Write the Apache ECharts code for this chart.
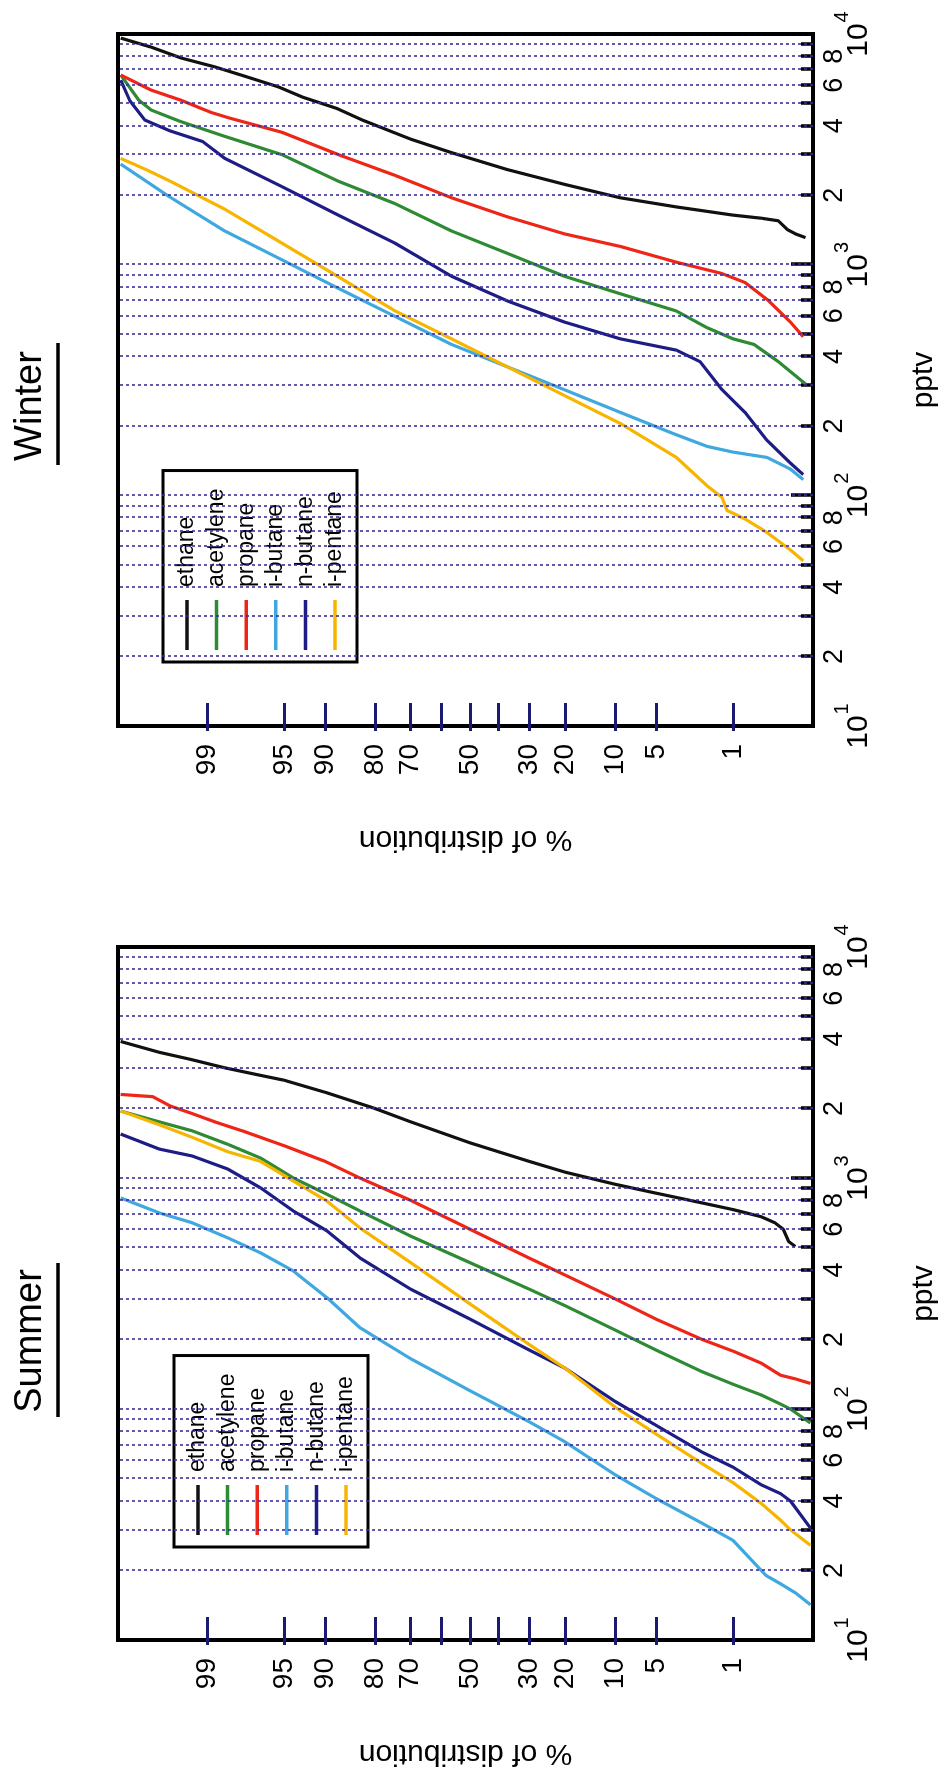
<!DOCTYPE html>
<html>
<head>
<meta charset="utf-8">
<script src="https://cdn.jsdelivr.net/npm/echarts@6/dist/echarts.min.js"></script>
<style>
  html, body { margin: 0; padding: 0; background: #ffffff; overflow: hidden; }
  #page { position: relative; width: 946px; height: 1771px; overflow: hidden; background: #ffffff; }
  /* the figure is laid out landscape and turned a quarter turn counter-clockwise */
  #chart { position: absolute; left: 0; top: 0; width: 1771px; height: 946px;
           transform-origin: 0 0; transform: translate(0, 1771px) rotate(-90deg); }
</style>
</head>
<body>
<div id="page"><div id="chart"></div></div>
<script>
// ---- species ----
const speciesNames  = ['ethane', 'acetylene', 'propane', 'i-butane', 'n-butane', 'i-pentane'];
const speciesColors = ['#111111', '#2f8a34', '#ee2617', '#3fa9df', '#1d1d85', '#f7b500'];

// ---- probability axis ticks (% of distribution) ----
const probTicks  = [99, 95, 90, 80, 70, 60, 50, 40, 30, 20, 10, 5, 1];
const probLabels = [99, 95, 90, 80, 70, 50, 30, 20, 10, 5, 1];

// ---- concentration axis ticks (pptv) ----
const decadeExponents = [1, 2, 3, 4];
const minorMantissas  = [2, 3, 4, 5, 6, 7, 8, 9];
const labelMantissas  = [2, 4, 6, 8];
const gridMantissas   = [1, 2, 3, 4, 5, 6, 7, 8, 9];

// ---- Summer: [cumulative %, pptv] ----
const summerEthane    = [[99.9,3900],[99.7,3500],[99.3,3250],[98.5,3000],[97,2800],[95,2650],[90,2350],[80,2000],[70,1750],[50,1420],[30,1180],[20,1060],[10,940],[5,860],[2,780],[1,730],[0.5,680],[0.35,640],[0.28,600],[0.24,530],[0.2,505]];
const summerAcetylene = [[99.9,1950],[99.7,1750],[99.3,1600],[98.4,1400],[96.8,1220],[94.1,1000],[89.7,850],[83.5,720],[70,560],[50,430],[30,330],[20,280],[10,220],[5,180],[2,145],[1,128],[0.5,115],[0.3,105],[0.23,100],[0.13,87]];
const summerPropane   = [[99.9,2300],[99.75,2250],[99.6,2050],[99.3,1900],[98.8,1750],[97.8,1600],[95,1380],[90,1180],[83.5,1000],[70,800],[50,600],[30,450],[20,380],[10,300],[5,245],[2,200],[1,178],[0.5,158],[0.3,140],[0.2,135],[0.13,129]];
const summerIButane   = [[99.9,820],[99.7,706],[99.3,640],[98.4,551],[96.8,474],[94.1,396],[89.7,303],[83.5,225],[70,165],[50,120],[30,88],[20,72],[10,52],[5,41],[2,32],[1,27],[0.44,19],[0.3,17.5],[0.2,16],[0.13,14.2]];
const summerNButane   = [[99.9,1550],[99.7,1334],[99.3,1245],[98.4,1094],[96.8,906],[94.1,720],[89.7,590],[83.5,451],[70,330],[50,245],[30,180],[20,150],[10,108],[5,85],[2,65],[1,56],[0.5,47],[0.3,43],[0.23,40],[0.13,30.5]];
const summerIPentane  = [[99.9,1950],[99.7,1700],[99.3,1500],[98.4,1300],[96.8,1180],[94.1,970],[89.7,794],[83.5,608],[70,430],[50,285],[30,190],[20,150],[10,102],[5,78],[2,58],[1,48],[0.5,39],[0.3,33],[0.23,30],[0.13,25.7]];

// ---- Winter: [cumulative %, pptv] ----
const winterEthane    = [[99.9,9600],[99.76,8770],[99.47,7870],[98.8,7200],[97.86,6640],[95.5,5900],[93.1,5330],[88,4750],[83,4240],[70,3500],[56.5,3060],[36.9,2580],[20.2,2230],[9.2,1950],[3.4,1780],[1,1640],[0.5,1590],[0.32,1550],[0.25,1420],[0.2,1360],[0.15,1310]];
const winterAcetylene = [[99.9,6640],[99.83,5160],[99.76,4680],[99.5,4200],[98.5,3600],[95.2,3000],[87.8,2300],[74.7,1840],[56.5,1400],[36.9,1117],[20.2,891],[9.2,748],[3.4,630],[1.8,533],[1,477],[0.6,451],[0.32,380],[0.15,304]];
const winterPropane   = [[99.9,6640],[99.76,5710],[99.47,5160],[98.9,4570],[98.3,4310],[95.2,3750],[87.8,3000],[74.7,2440],[56.5,1950],[36.9,1610],[20.2,1360],[9.2,1200],[3.4,1025],[1.29,915],[0.75,837],[0.43,707],[0.23,564],[0.16,487]];
const winterIButane   = [[99.9,2730],[99.6,1960],[98.5,1400],[95.2,1050],[87.8,790],[74.7,597],[56.5,451],[36.9,360],[20.2,287],[9.2,229],[3.4,183],[1.8,163],[1,154],[0.43,146],[0.23,130],[0.16,117]];
const winterNButane   = [[99.9,6310],[99.87,5160],[99.8,4240],[99.6,3800],[99.1,3420],[98.5,2890],[95.2,2180],[87.8,1640],[74.7,1240],[56.5,891],[36.9,695],[20.2,564],[9.2,477],[3.4,426],[2.1,380],[1.29,287],[0.75,229],[0.43,173],[0.23,138],[0.16,123]];
const winterIPentane  = [[99.9,2890],[99.79,2580],[99.6,2300],[98.5,1740],[95.2,1240],[87.8,886],[74.7,631],[56.5,477],[36.9,360],[20.2,271],[9.2,205],[3.4,146],[1.8,110],[1.29,98],[1.15,86],[0.75,79],[0.43,69],[0.23,58],[0.16,52]];

const summerSeries = [summerEthane, summerAcetylene, summerPropane, summerIButane, summerNButane, summerIPentane];
const winterSeries = [winterEthane, winterAcetylene, winterPropane, winterIButane, winterNButane, winterIPentane];

// inverse of the standard normal CDF (Acklam), used for the probability-paper axis
function probit(p) {
  const a = [-3.969683028665376e+01, 2.209460984245205e+02, -2.759285104469687e+02, 1.383577518672690e+02, -3.066479806614716e+01, 2.506628277459239e+00];
  const b = [-5.447609879822406e+01, 1.615858368580409e+02, -1.556989798598866e+02, 6.680131188771972e+01, -1.328068155288572e+01];
  const c = [-7.784894002430293e-03, -3.223964580411365e-01, -2.400758277161838e+00, -2.549732539343734e+00, 4.374664141464968e+00, 2.938163982698783e+00];
  const d = [7.784695709041462e-03, 3.224671290700398e-01, 2.445134137142996e+00, 3.754408661907416e+00];
  const pl = 0.02425;
  let q, r;
  if (p < pl) {
    q = Math.sqrt(-2 * Math.log(p));
    return (((((c[0]*q+c[1])*q+c[2])*q+c[3])*q+c[4])*q+c[5]) / ((((d[0]*q+d[1])*q+d[2])*q+d[3])*q+1);
  }
  if (p > 1 - pl) {
    q = Math.sqrt(-2 * Math.log(1 - p));
    return -(((((c[0]*q+c[1])*q+c[2])*q+c[3])*q+c[4])*q+c[5]) / ((((d[0]*q+d[1])*q+d[2])*q+d[3])*q+1);
  }
  q = p - 0.5; r = q * q;
  return (((((a[0]*r+a[1])*r+a[2])*r+a[3])*r+a[4])*r+a[5])*q / (((((b[0]*r+b[1])*r+b[2])*r+b[3])*r+b[4])*r+1);
}

const FONT = '"Liberation Sans", Arial, Helvetica, sans-serif';
const Z_MAX = 3.114, Z_MIN = -3.034;

const probTickZ  = probTicks.map(p => probit(p / 100));
const probLabelZ = probLabels.map(p => probit(p / 100));
const minorTickLog = [], minorLabelLog = [], gridValues = [];
decadeExponents.slice(0, 3).forEach(e => {
  minorMantissas.forEach(m => minorTickLog.push(e + Math.log10(m)));
  labelMantissas.forEach(m => minorLabelLog.push(e + Math.log10(m)));
  gridMantissas.forEach(m => { if (!(m === 1 && e === 1)) gridValues.push(m * Math.pow(10, e)); });
});

const panels = [
  { name: 'Summer', series: summerSeries, grid: { left: 131, top: 118, width: 693, height: 695 },
    titleX: 430, ulFrom: 354, ulTo: 508, legendLeft: 224, legendTop: 174 },
  { name: 'Winter', series: winterSeries, grid: { left: 1045, top: 118, width: 692, height: 695 },
    titleX: 1365, ulFrom: 1306, ulTo: 1428, legendLeft: 1109, legendTop: 163 }
];

const option = {
  backgroundColor: '#ffffff',
  animation: false,
  textStyle: { fontFamily: FONT },
  grid: [], xAxis: [], yAxis: [], series: [], legend: [], graphic: []
};

panels.forEach((pn, i) => {
  option.grid.push(Object.assign({ show: true, borderColor: '#000', borderWidth: 4, backgroundColor: 'transparent' }, pn.grid));

  // log concentration axis (carries the data, decade ticks and labels)
  option.xAxis.push({
    type: 'log', logBase: 10, gridIndex: i, min: 10, max: 10000, splitNumber: 3, position: 'bottom',
    axisLine: { show: false, onZero: false },
    axisTick: { show: true, inside: true, length: 22, lineStyle: { color: '#000', width: 3.5 } },
    axisLabel: {
      margin: 31, showMinLabel: true, showMaxLabel: true, color: '#000',
      formatter: v => '{b|10}{s|' + Math.round(Math.log10(v)) + '}',
      rich: {
        b: { fontSize: 30, lineHeight: 30, fontFamily: FONT, color: '#000', verticalAlign: 'bottom' },
        s: { fontSize: 20, lineHeight: 20, fontFamily: FONT, color: '#000', verticalAlign: 'bottom', padding: [0, 0, 22, 1] }
      }
    },
    splitLine: { show: false },
    name: 'pptv', nameLocation: 'middle', nameGap: 96,
    nameTextStyle: { fontSize: 30, color: '#000', fontFamily: FONT }
  });
  // minor ticks 2..9 of each decade, expressed in log10 units
  option.xAxis.push({
    type: 'value', gridIndex: i, min: 1, max: 4, position: 'bottom',
    axisLine: { show: false, onZero: false },
    axisTick: { show: true, inside: true, length: 12, customValues: minorTickLog, lineStyle: { color: '#000', width: 3.5 } },
    axisLabel: {
      show: true, margin: 8, fontSize: 27, color: '#000', fontFamily: FONT, customValues: minorLabelLog,
      formatter: v => String(Math.round(Math.pow(10, v - Math.floor(v + 1e-9))))
    },
    splitLine: { show: false }
  });

  // probability axis in normal-quantile units
  option.yAxis.push({
    type: 'value', gridIndex: i, min: Z_MIN, max: Z_MAX, position: 'left',
    axisLine: { show: false, onZero: false },
    axisTick: { show: true, inside: true, length: 23, customValues: probTickZ, lineStyle: { color: '#1b1a70', width: 3 } },
    axisLabel: {
      show: true, margin: 18, fontSize: 28, color: '#000', fontFamily: FONT, customValues: probLabelZ,
      formatter: v => {
        let best = 0;
        probLabelZ.forEach((z, k) => { if (Math.abs(z - v) < Math.abs(probLabelZ[best] - v)) best = k; });
        return String(probLabels[best]);
      }
    },
    splitLine: { show: false },
    name: '% of distribution', nameLocation: 'middle', nameGap: 98,
    nameTextStyle: { fontSize: 30, color: '#000', fontFamily: FONT }
  });
  option.yAxis.push({
    type: 'value', gridIndex: i, min: Z_MIN, max: Z_MAX, position: 'left',
    axisLine: { show: false, onZero: false },
    axisTick: { show: true, inside: false, length: 5, customValues: probTickZ, lineStyle: { color: '#1b1a70', width: 3 } },
    axisLabel: { show: false }, splitLine: { show: false }
  });

  // dotted concentration grid
  option.series.push({
    type: 'line', name: 'grid-' + pn.name, xAxisIndex: 2 * i, yAxisIndex: 2 * i, data: [], z: 1, silent: true,
    markLine: {
      silent: true, symbol: 'none', animation: false, label: { show: false },
      lineStyle: { color: '#3a2f9e', width: 1.6, type: [3, 3] },
      data: gridValues.map(v => ({ xAxis: v }))
    }
  });

  pn.series.forEach((pts, k) => {
    option.series.push({
      type: 'line', name: speciesNames[k], xAxisIndex: 2 * i, yAxisIndex: 2 * i,
      symbol: 'none', smooth: false, z: 3, clip: true,
      lineStyle: { color: speciesColors[k], width: 3.2 },
      itemStyle: { color: speciesColors[k] },
      data: pts.map(([pct, v]) => [v, probit(pct / 100)])
    });
  });

  option.legend.push({
    orient: 'vertical', left: pn.legendLeft, top: pn.legendTop, data: speciesNames,
    selectedMode: false, icon: 'rect', itemWidth: 50, itemHeight: 3.5, itemGap: 5.6,
    padding: [12, 18, 10, 12], borderColor: '#000', borderWidth: 3, backgroundColor: '#ffffff',
    textStyle: { fontSize: 23, color: '#000', fontFamily: FONT, lineHeight: 24, padding: [0, 0, 0, 8] }
  });

  option.graphic.push({
    type: 'text', x: pn.titleX, y: 31,
    style: { text: pn.name, fontSize: 38, fontFamily: FONT, fill: '#000', textAlign: 'center', textVerticalAlign: 'middle' }
  });
  option.graphic.push({
    type: 'line', shape: { x1: pn.ulFrom, y1: 58, x2: pn.ulTo, y2: 58 },
    style: { stroke: '#000', lineWidth: 3.5 }
  });
});

const chart = echarts.init(document.getElementById('chart'), null, { renderer: 'canvas', width: 1771, height: 946 });
chart.setOption(option);
</script>
</body>
</html>
